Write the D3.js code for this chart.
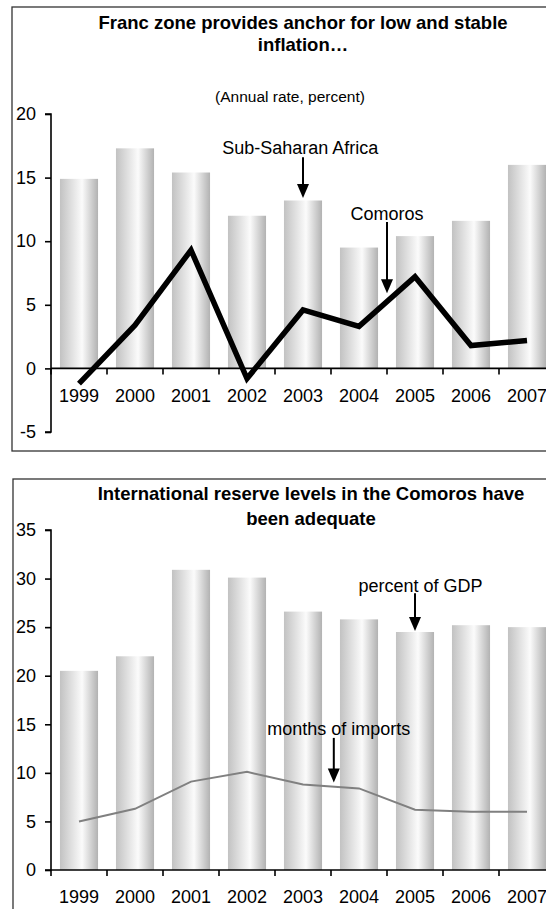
<!DOCTYPE html>
<html>
<head>
<meta charset="utf-8">
<script src="https://cdn.jsdelivr.net/npm/d3@7"></script>
<style>
  html, body { margin: 0; padding: 0; background: #fff; }
  svg { display: block; font-family: Arial, "Liberation Sans", sans-serif; }
</style>
</head>
<body>
<svg id="chart" width="546" height="909"></svg>
<script>
// Years shared by both panels
const years = ["1999", "2000", "2001", "2002", "2003", "2004", "2005", "2006", "2007"];

// Inflation, annual rate in percent
const ssaInflation = [14.9, 17.3, 15.4, 12.0, 13.2, 9.5, 10.4, 11.6, 16.0];
const comorosInflation = [-1.2, 3.4, 9.3, -0.8, 4.6, 3.3, 7.2, 1.8, 2.2];
const inflationTicks = [-5, 0, 5, 10, 15, 20];

// International reserves of the Comoros
const reservesPctGDP = [20.5, 22.0, 30.9, 30.1, 26.6, 25.8, 24.5, 25.2, 25.0];
const reservesMonths = [5.0, 6.3, 9.1, 10.1, 8.8, 8.4, 6.2, 6.0, 6.0];
const reserveTicks = [0, 5, 10, 15, 20, 25, 30, 35];

const svg = d3.select("#chart");
const FONT = 18;
const FAMILY = "Arial, 'Liberation Sans', sans-serif";

// Bar fill: horizontal metallic gradient
const defs = svg.append("defs");
const grad = defs.append("linearGradient")
  .attr("id", "barGrad").attr("x1", "0%").attr("x2", "100%").attr("y1", "0%").attr("y2", "0%");
grad.append("stop").attr("offset", "0%").attr("stop-color", "#c2c2c2");
grad.append("stop").attr("offset", "58%").attr("stop-color", "#fbfbfb");
grad.append("stop").attr("offset", "100%").attr("stop-color", "#b2b2b2");

// x positions: categorical bands, same for both panels
const x = d3.scaleBand().domain(years).range([51, 555]).paddingInner(0.32).paddingOuter(0.16);
const xEdge = d3.scaleLinear().domain([0, years.length]).range([51, 555]);

function panel(cfg) {
  const g = svg.append("g");
  // frame
  g.append("rect")
    .attr("x", cfg.frame[0]).attr("y", cfg.frame[1])
    .attr("width", cfg.frame[2]).attr("height", cfg.frame[3])
    .attr("fill", "none").attr("stroke", "#333").attr("stroke-width", 1.3);

  // title lines
  cfg.title.forEach((t, i) => {
    g.append("text")
      .attr("x", cfg.titleX).attr("y", cfg.titleY + i * cfg.titleGap)
      .attr("text-anchor", "middle").attr("font-weight", "bold")
      .attr("font-size", 18.5).text(t);
  });

  const y = d3.scaleLinear().domain(cfg.domain).range(cfg.range);

  // bars
  g.selectAll("rect.bar").data(cfg.bars).join("rect")
    .attr("class", "bar")
    .attr("x", (d, i) => x(years[i]))
    .attr("width", x.bandwidth())
    .attr("y", d => y(Math.max(0, d)))
    .attr("height", d => Math.abs(y(d) - y(0)))
    .attr("fill", "url(#barGrad)");

  // y axis
  const yAxis = d3.axisLeft(y).tickValues(cfg.ticks).tickSize(6).tickPadding(9).tickFormat(d => String(d));
  const ya = g.append("g").attr("transform", `translate(${xEdge(0)},0)`).call(yAxis);
  ya.select(".domain").attr("stroke", "#000").attr("stroke-width", 1.6)
    .attr("d", `M-6,${y(cfg.domain[1])}H0V${y(cfg.domain[0])}H-6`);
  ya.selectAll(".tick line").attr("stroke", "#000").attr("stroke-width", 1.6);
  ya.selectAll(".tick text").attr("font-size", FONT).attr("fill", "#000").attr("font-family", FAMILY);

  // x axis on the zero line, ticks at category edges
  const xa = g.append("g").attr("transform", `translate(0,${y(0)})`);
  xa.append("line").attr("x1", xEdge(0)).attr("x2", xEdge(years.length))
    .attr("stroke", "#000").attr("stroke-width", 1.6);
  xa.selectAll("line.tk").data(d3.range(years.length + 1)).join("line")
    .attr("class", "tk")
    .attr("x1", i => xEdge(i)).attr("x2", i => xEdge(i))
    .attr("y1", 0).attr("y2", 6)
    .attr("stroke", "#000").attr("stroke-width", 1.6);

  g.selectAll("text.yr").data(years).join("text")
    .attr("class", "yr")
    .attr("x", d => x(d) + x.bandwidth() / 2)
    .attr("y", cfg.yearY)
    .attr("text-anchor", "middle").attr("dominant-baseline", "central")
    .attr("font-size", FONT).text(d => d);

  // line series
  const line = d3.line().x((d, i) => x(years[i]) + x.bandwidth() / 2).y(d => y(d));
  g.append("path").datum(cfg.line)
    .attr("d", line).attr("fill", "none")
    .attr("stroke", cfg.lineColor).attr("stroke-width", cfg.lineWidth)
    .attr("stroke-linejoin", "miter").attr("stroke-miterlimit", 4);

  // annotations: label with a downward arrow
  cfg.notes.forEach(n => {
    g.append("text")
      .attr("x", xEdge(n.tx)).attr("y", y(n.ty))
      .attr("text-anchor", "middle").attr("dominant-baseline", "central")
      .attr("font-size", FONT).text(n.text);
    const ax = xEdge(n.ax), y0 = y(n.from), y1 = y(n.to);
    g.append("line")
      .attr("x1", ax).attr("x2", ax)
      .attr("y1", y0).attr("y2", y1 - 12)
      .attr("stroke", "#000").attr("stroke-width", 2);
    g.append("path")
      .attr("d", `M${ax - 6},${y1 - 14}L${ax + 6},${y1 - 14}L${ax},${y1}Z`)
      .attr("fill", "#000");
  });

  return { g, y };
}

// Panel 1: inflation
const p1 = panel({
  frame: [12, 7, 620, 444],
  title: ["Franc zone provides anchor for low and stable", "inflation\u2026"],
  titleX: 303, titleY: 29, titleGap: 22,
  domain: [-5, 20], range: [432, 114],
  ticks: inflationTicks,
  bars: ssaInflation,
  line: comorosInflation, lineColor: "#000", lineWidth: 5.5,
  yearY: 396,
  notes: [
    { text: "Sub-Saharan Africa", tx: 4.45, ty: 17.3, ax: 4.5, from: 16.6, to: 13.4 },
    { text: "Comoros", tx: 6.0, ty: 12.1, ax: 6.0, from: 11.5, to: 5.9 }
  ]
});
p1.g.append("text")
  .attr("x", 290).attr("y", 96)
  .attr("text-anchor", "middle").attr("dominant-baseline", "central")
  .attr("font-size", 15.5).text("(Annual rate, percent)");

// Panel 2: reserves
panel({
  frame: [13, 479, 620, 460],
  title: ["International reserve levels in the Comoros have", "been adequate"],
  titleX: 311, titleY: 500, titleGap: 25,
  domain: [0, 35], range: [870, 530],
  ticks: reserveTicks,
  bars: reservesPctGDP,
  line: reservesMonths, lineColor: "#808080", lineWidth: 2,
  yearY: 897,
  notes: [
    { text: "percent of GDP", tx: 6.6, ty: 29.2, ax: 6.5, from: 28.5, to: 24.6 },
    { text: "months of imports", tx: 5.14, ty: 14.5, ax: 5.05, from: 13.6, to: 9.0 }
  ]
});
</script>
</body>
</html>
